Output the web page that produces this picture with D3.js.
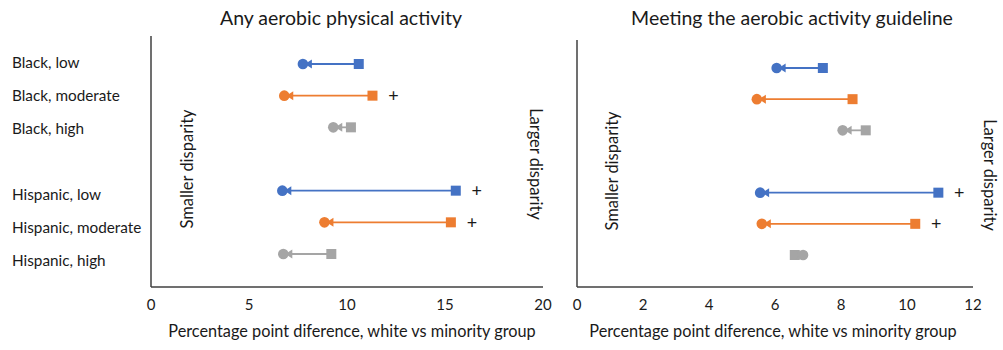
<!DOCTYPE html>
<html>
<head>
<meta charset="utf-8">
<script src="https://cdn.jsdelivr.net/npm/d3@7"></script>
<style>
  body { margin: 0; background: #fff; }
  svg { font-family: Lato, "Noto Sans", sans-serif; }
</style>
</head>
<body>
<div id="chart"></div>
<script>
// rows; "gap" is the empty slot between the Black and Hispanic groups
const slots = ["Black, low", "Black, moderate", "Black, high", "gap", "Hispanic, low", "Hispanic, moderate", "Hispanic, high"];
const groups = ["Black, low", "Black, moderate", "Black, high", "Hispanic, low", "Hispanic, moderate", "Hispanic, high"];
const levels = ["low", "moderate", "high", "low", "moderate", "high"];

// any aerobic physical activity (square = from, circle = to)
const anyFrom = [10.6, 11.3, 10.2, 15.55, 15.3, 9.2];
const anyTo = [7.75, 6.8, 9.3, 6.7, 8.85, 6.75];
const anySig = [false, true, false, true, true, false];
const anyTicks = [0, 5, 10, 15, 20];

// meeting the aerobic activity guideline
const guideFrom = [7.45, 8.35, 8.75, 10.95, 10.25, 6.6];
const guideTo = [6.05, 5.45, 8.05, 5.55, 5.6, 6.85];
const guideSig = [false, false, false, true, true, false];
const guideTicks = [0, 2, 4, 6, 8, 10, 12];

const levelColor = { low: "#4472C4", moderate: "#ED7D31", high: "#A5A5A5" };

const width = 1003, height = 350;
const svg = d3.select("#chart").append("svg").attr("width", width).attr("height", height);

// row labels on the far left
const labelY = d3.scalePoint().domain(slots).range([63, 261]);
svg.append("g").selectAll("text").data(groups).join("text")
  .attr("x", 12).attr("y", d => labelY(d)).attr("dy", "0.35em")
  .style("font-size", "15.3px").attr("fill", "#1a1a1a")
  .text(d => d);

function panel(opts) {
  const x = d3.scaleLinear().domain(opts.domain).range([opts.x0, opts.x1]);
  const y = d3.scalePoint().domain(slots).range(opts.yRange);
  const g = svg.append("g");
  const rows = groups.map((k, i) => ({ key: k, level: levels[i], from: opts.from[i], to: opts.to[i], sig: opts.sig[i] }));

  // axes (lines only, no ticks)
  g.append("line").attr("x1", opts.x0).attr("x2", opts.x0).attr("y1", opts.yTop).attr("y2", opts.yAxis)
    .attr("stroke", "#404040").attr("stroke-width", 1.5);
  g.append("line").attr("x1", opts.x0).attr("x2", opts.x1).attr("y1", opts.yAxis).attr("y2", opts.yAxis)
    .attr("stroke", "#404040").attr("stroke-width", 1.5);
  g.append("g").selectAll("text").data(opts.ticks).join("text")
    .attr("x", d => x(d)).attr("y", opts.yAxis + 18).attr("dy", "0.35em")
    .attr("text-anchor", "middle").style("font-size", "15px").attr("fill", "#1a1a1a")
    .text(d => d);

  g.append("text").attr("x", opts.titleX).attr("y", 18).attr("dy", "0.35em")
    .attr("text-anchor", "middle").style("font-size", "19.5px").attr("fill", "#1a1a1a")
    .text(opts.title);
  g.append("text").attr("x", opts.xTitleX).attr("y", 331).attr("dy", "0.35em")
    .attr("text-anchor", "middle").style("font-size", "16.3px").attr("fill", "#1a1a1a")
    .text("Percentage point diference, white vs minority group");

  g.append("text").attr("transform", `translate(${opts.smallX},${opts.smallY}) rotate(-90)`)
    .attr("dy", "0.35em").attr("text-anchor", "middle").style("font-size", "16.5px").attr("fill", "#1a1a1a")
    .text("Smaller disparity");
  g.append("text").attr("transform", `translate(${opts.largeX},${opts.largeY}) rotate(90)`)
    .attr("dy", "0.35em").attr("text-anchor", "middle").style("font-size", "16.5px").attr("fill", "#1a1a1a")
    .text("Larger disparity");

  const r = g.append("g").selectAll("g").data(rows).join("g");
  r.append("line")
    .attr("x1", d => x(d.from)).attr("x2", d => x(d.to))
    .attr("y1", d => y(d.key)).attr("y2", d => y(d.key))
    .attr("stroke", d => levelColor[d.level]).attr("stroke-width", 1.8);
  r.append("rect")
    .attr("x", d => x(d.from) - 5).attr("y", d => y(d.key) - 5)
    .attr("width", 10).attr("height", 10)
    .attr("fill", d => levelColor[d.level]);
  r.append("path")
    .attr("d", d => {
      const dir = d.from > d.to ? 1 : -1;
      const tx = x(d.to) + dir * 2, bx = x(d.to) + dir * 9, cy = y(d.key);
      return `M${tx},${cy}L${bx},${cy - 4.5}L${bx},${cy + 4.5}Z`;
    })
    .attr("fill", d => levelColor[d.level]);
  r.append("circle")
    .attr("cx", d => x(d.to)).attr("cy", d => y(d.key)).attr("r", 5.3)
    .attr("fill", d => levelColor[d.level]);
  r.filter(d => d.sig).append("text")
    .attr("x", d => x(d.from) + 21).attr("y", d => y(d.key)).attr("dy", "0.35em")
    .attr("text-anchor", "middle").style("font-size", "18px").attr("fill", "#1a1a1a")
    .text("+");
}

panel({
  title: "Any aerobic physical activity", domain: [0, 20], ticks: anyTicks,
  from: anyFrom, to: anyTo, sig: anySig,
  x0: 151, x1: 543, yTop: 36, yAxis: 287, yRange: [64, 254],
  titleX: 341, xTitleX: 352, smallX: 187, smallY: 169, largeX: 536, largeY: 164
});
panel({
  title: "Meeting the aerobic activity guideline", domain: [0, 12], ticks: guideTicks,
  from: guideFrom, to: guideTo, sig: guideSig,
  x0: 577, x1: 973, yTop: 40, yAxis: 287, yRange: [68, 255],
  titleX: 792, xTitleX: 773, smallX: 612, smallY: 171, largeX: 990, largeY: 175
});
</script>
</body>
</html>
